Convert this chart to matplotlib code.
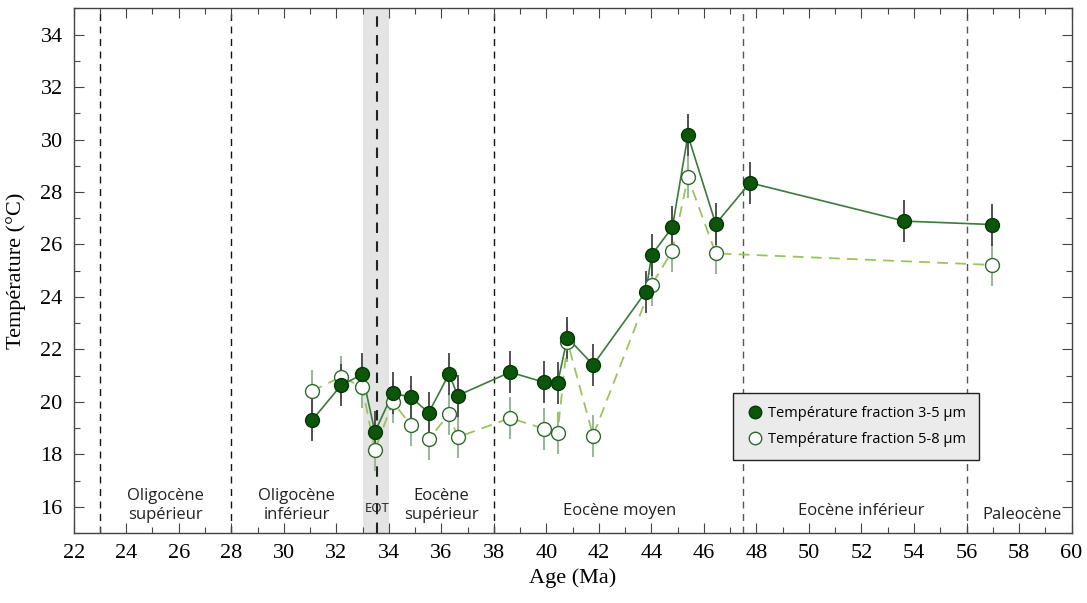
import numpy as np
import matplotlib
matplotlib.use("Agg")
import matplotlib.pyplot as plt
from matplotlib.lines import Line2D
from matplotlib.ticker import MultipleLocator

# fraction 3-5 um (points pleins)
age_35 = [31.08, 32.18, 32.99, 33.47, 34.15, 34.83, 35.52, 36.30, 36.62, 38.62,
          39.90, 40.43, 40.80, 41.78, 43.79, 44.01, 44.80, 45.39, 46.45, 47.75,
          53.63, 56.96]
temp_35 = [19.30, 20.63, 21.05, 18.85, 20.33, 20.18, 19.59, 21.07, 20.24, 21.13,
           20.75, 20.72, 22.45, 21.41, 24.20, 25.60, 26.66, 30.16, 26.78, 28.35,
           26.89, 26.76]
err_35 = [0.8] * len(age_35)

# fraction 5-8 um (points vides)
age_58 = [31.08, 32.18, 32.99, 33.47, 34.15, 34.83, 35.52, 36.30, 36.62, 38.62,
          39.90, 40.43, 40.80, 41.78, 44.01, 44.80, 45.39, 46.45, 56.96]
temp_58 = [20.41, 20.96, 20.56, 18.16, 19.99, 19.13, 18.57, 19.55, 18.65, 19.38,
           18.98, 18.83, 22.30, 18.71, 24.46, 25.76, 28.56, 25.66, 25.22]
err_58 = [0.8] * len(age_58)

# limites des etages
limites = [23, 28, 38, 47.5, 56]
eot = 33.55
etages = ["Oligocène\nsupérieur", "Oligocène\ninférieur", "Eocène\nsupérieur",
          "Eocène moyen", "Eocène inférieur", "Paleocène"]
etages_x = [25.5, 30.5, 36.0, 42.8, 52.0, 58.1]
etages_y = [16.05, 16.05, 16.05, 15.85, 15.85, 15.7]

serif = "Liberation Serif"
sans = "Open Sans"

fig = plt.figure(figsize=(10.87, 6.03), dpi=100)
ax = fig.add_axes([0.0678, 0.1161, 0.918, 0.870])

ax.axvspan(33.0, 34.0, color="#e4e4e4", lw=0, zorder=0)
for x in limites:
    col = "#111111" if x < 40 else "#555555"
    ax.axvline(x, color=col, ls=(0, (5, 4)), lw=1.0, zorder=1)
ax.axvline(eot, color="#222222", ls=(0, (5, 4)), lw=1.5, zorder=1)

# courbe 5-8 um
ax.errorbar(age_58, temp_58, yerr=err_58, fmt="none", ecolor="#9ab89a",
            elinewidth=1.5, capsize=0, zorder=2)
ax.plot(age_58, temp_58, color="#9cc35c", ls=(0, (6, 4)), lw=1.3, zorder=3)

# courbe 3-5 um
ax.errorbar(age_35, temp_35, yerr=err_35, fmt="none", ecolor="#444444",
            elinewidth=1.3, capsize=0, zorder=2)
ax.plot(age_35, temp_35, color="#3b7a3b", lw=1.2, zorder=4)

ax.plot(age_58, temp_58, "o", ms=10, mfc="white", mec="#2f6a2f", mew=1.0, zorder=5)
ax.plot(age_35, temp_35, "o", ms=10, mfc="#0b560b", mec="#063806", mew=1.0, zorder=6)

ax.set_xlim(22, 60)
ax.set_ylim(15, 35)
ax.xaxis.set_major_locator(MultipleLocator(2))
ax.xaxis.set_minor_locator(MultipleLocator(1))
ax.yaxis.set_major_locator(MultipleLocator(2))
ax.yaxis.set_minor_locator(MultipleLocator(1))
ax.tick_params(which="both", direction="in", top=True, right=True, color="#444444")
ax.tick_params(which="major", length=7, width=0.8, pad=8)
ax.tick_params(which="minor", length=4, width=0.8)
for lab in ax.get_xticklabels() + ax.get_yticklabels():
    lab.set_fontfamily(serif)
    lab.set_fontsize(16)
for s in ax.spines.values():
    s.set_color("#444444")
    s.set_linewidth(1.0)

ax.set_xlabel("Age (Ma)", fontfamily=serif, fontsize=16, labelpad=4)
ax.set_ylabel("Température (°C)", fontfamily=serif, fontsize=16, labelpad=10)

for txt, x, y in zip(etages, etages_x, etages_y):
    ax.text(x, y, txt, ha="center", va="center", fontfamily=sans, fontsize=12,
            color="#222222", linespacing=1.2, zorder=7)
ax.text(eot, 15.95, "EOT", ha="center", va="center", fontfamily=sans,
        fontsize=9.5, color="#222222", zorder=7)

handles = [
    Line2D([], [], ls="none", marker="o", ms=9, mfc="#0b560b", mec="#063806"),
    Line2D([], [], ls="none", marker="o", ms=9, mfc="white", mec="#2f6a2f"),
]
leg = ax.legend(handles, ["Température fraction 3-5 µm", "Température fraction 5-8 µm"],
                loc="upper left", bbox_to_anchor=(0.661, 0.267), borderaxespad=0,
                frameon=True, fancybox=False, framealpha=1, facecolor="#ebebeb",
                edgecolor="#222222", prop={"family": sans, "size": 10.5},
                handletextpad=0.3, borderpad=0.9, labelspacing=0.75,
                handlelength=1.2)
leg.get_frame().set_linewidth(1.0)
leg.set_zorder(8)

fig.savefig("out.png", dpi=100)
